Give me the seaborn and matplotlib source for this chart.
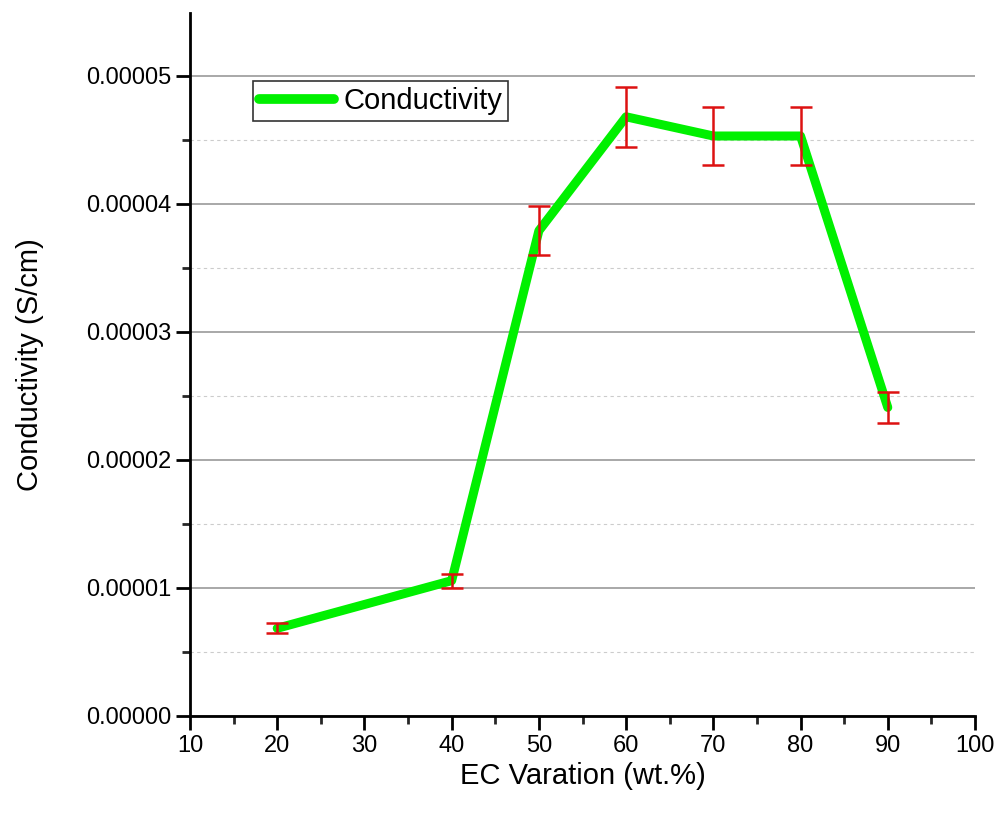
import numpy as np
import pandas as pd
import matplotlib
matplotlib.use("Agg")
import matplotlib.pyplot as plt
import seaborn as sns
from matplotlib.ticker import MultipleLocator, FormatStrFormatter

# Data
ec_wt = [20, 40, 50, 60, 70, 80, 90]
conductivity = [0.685e-5, 1.057e-5, 3.79e-5, 4.68e-5, 4.53e-5, 4.53e-5, 2.41e-5]
cond_err = [0.038e-5, 0.054e-5, 0.19e-5, 0.234e-5, 0.224e-5, 0.224e-5, 0.122e-5]
series_name = "Conductivity"
x_label = "EC Varation (wt.%)"
y_label = "Conductivity (S/cm)"

df = pd.DataFrame({"x": ec_wt, "y": conductivity, "err": cond_err, "series": series_name})

sns.set_style("ticks")
plt.rcParams["font.family"] = ["Liberation Sans", "DejaVu Sans"]
plt.rcParams["text.color"] = "black"
plt.rcParams["axes.labelcolor"] = "black"

fig = plt.figure(figsize=(10, 8.18), dpi=100)
ax = fig.add_axes([0.19, 0.1247, 0.785, 0.8593])

# gridlines
ax.set_axisbelow(True)
ax.yaxis.set_major_locator(MultipleLocator(1e-5))
ax.yaxis.set_minor_locator(MultipleLocator(0.5e-5))
ax.xaxis.set_major_locator(MultipleLocator(10))
ax.xaxis.set_minor_locator(MultipleLocator(5))
ax.yaxis.set_major_formatter(FormatStrFormatter("%.5f"))
ax.grid(axis="y", which="major", color="#999999", linewidth=1.2, linestyle="-")
ax.grid(axis="y", which="minor", color="#cccccc", linewidth=0.8, linestyle=(0, (3, 3)))

sns.lineplot(data=df, x="x", y="y", hue="series", palette=["#00f000"],
             linewidth=6.5, ax=ax, errorbar=None, solid_capstyle="round", zorder=3)

ax.errorbar(df["x"], df["y"], yerr=df["err"], fmt="none", ecolor="#dd1111",
            elinewidth=1.8, capsize=8, capthick=1.8, zorder=4)

ax.set_xlim(10, 100)
ax.set_ylim(0, 5.49e-5)

for s in ["top", "right"]:
    ax.spines[s].set_visible(False)
for s in ["left", "bottom"]:
    ax.spines[s].set_linewidth(2)
    ax.spines[s].set_color("black")

ax.tick_params(axis="both", which="major", direction="out", length=10, width=2,
               labelsize=17, colors="black")
ax.tick_params(axis="both", which="minor", direction="out", length=6, width=2)

ax.set_xlabel(x_label, fontsize=21, labelpad=4, color="black")
ax.set_ylabel(y_label, fontsize=21, labelpad=30, color="black")

leg = ax.legend(loc="upper left", bbox_to_anchor=(0.08, 0.903), fontsize=21,
                frameon=True, fancybox=False, edgecolor="black", handlelength=2.6,
                handletextpad=0.3, borderpad=0.2, borderaxespad=0)
leg.get_frame().set_linewidth(1.2)
for t in leg.get_texts():
    t.set_color("black")
for line in leg.get_lines():
    line.set_linewidth(7)

fig.savefig("out.png", dpi=100)
